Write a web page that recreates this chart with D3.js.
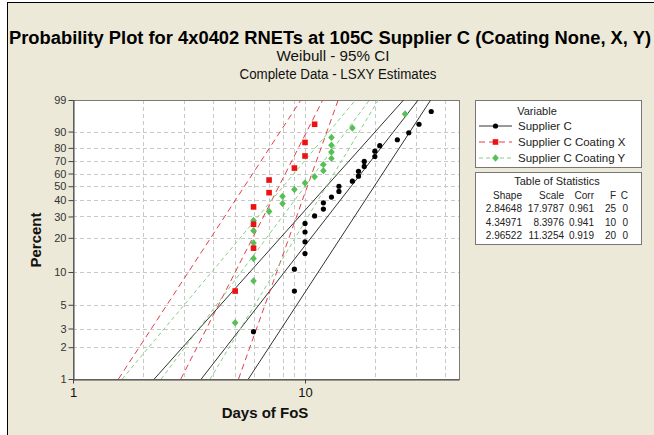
<!DOCTYPE html>
<html>
<head>
<meta charset="utf-8">
<script src="https://cdn.jsdelivr.net/npm/d3@7"></script>
<style>
  body { margin: 0; background: #fff; }
  text { font-family: "Liberation Sans", Arial, sans-serif; }
</style>
</head>
<body>
<svg id="chart" width="654" height="435"></svg>
<script>
// ---- data ----
const seriesNames = ["Supplier C", "Supplier C Coating X", "Supplier C Coating Y"];

const supplierCDays = [6, 9, 9, 10, 10, 10, 10, 11, 12, 12, 13, 14, 14, 16, 17, 17, 18, 18, 20, 20, 21, 25, 28, 31, 35];
const supplierCPct = [2.8, 6.7, 10.6, 14.6, 18.5, 22.4, 26.4, 30.3, 34.3, 38.2, 42.1, 46.1, 50.0, 53.9, 57.9, 61.8, 65.7, 69.7, 73.6, 77.6, 81.5, 85.4, 89.4, 93.3, 97.2];

const coatingXDays = [5, 6, 6, 6, 7, 7, 9, 10, 10, 11];
const coatingXPct = [6.7, 16.3, 26.0, 35.6, 45.2, 54.8, 64.4, 74.0, 83.7, 93.3];

const coatingYDays = [5, 6, 6, 6, 6, 6, 7, 8, 8, 9, 10, 11, 12, 12, 13, 13, 13, 13, 16, 27];
const coatingYPct = [3.4, 8.3, 13.2, 18.1, 23.0, 27.9, 32.8, 37.7, 42.6, 47.5, 52.5, 57.4, 62.3, 67.2, 72.1, 77.0, 81.9, 86.8, 91.7, 96.6];

// table of statistics
const shapes = ["2.84648", "4.34971", "2.96522"];
const scales = ["17.9787", "8.3976", "11.3254"];
const corrs = ["0.961", "0.941", "0.919"];
const failures = ["25", "10", "20"];
const censored = ["0", "0", "0"];

// 95% CI bounds (days) read at the bottom and top of the plot
const ciPct = [1, 99];
const supplierCLower = [2.24, 26.6];
const supplierCUpper = [5.7, 34.8];
const coatingXLower = [1.57, 9.6];
const coatingXUpper = [5.17, 13.9];
const coatingYLower = [1.63, 16.5];
const coatingYUpper = [3.9, 20.7];

const yTicks = [1, 2, 3, 5, 10, 20, 30, 40, 50, 60, 70, 80, 90, 99];
const xTicks = [1, 10];
const xGrid = [2, 3, 4, 5, 6, 7, 8, 9, 10, 20, 30, 40];

// ---- drawing ----
const svg = d3.select("#chart");
const margin = { left: 73, right: 459, top: 100, bottom: 379 };

// page background with border
svg.append("rect").attr("x", 7.5).attr("y", 2.5).attr("width", 700).attr("height", 500)
  .attr("fill", "#ECE9D8").attr("stroke", "#000");

// weibull probability transform
const wb = (p) => Math.log(-Math.log(1 - p / 100));

const x = d3.scaleLog().domain([1, 46.1]).range([margin.left, margin.right]);
const yw = d3.scaleLinear().domain([wb(1), wb(99)]).range([margin.bottom, margin.top]);
const y = (p) => yw(wb(p));

svg.append("rect")
  .attr("x", margin.left).attr("y", margin.top)
  .attr("width", margin.right - margin.left).attr("height", margin.bottom - margin.top)
  .attr("fill", "#fff");

svg.append("defs").append("clipPath").attr("id", "clip")
  .append("rect")
  .attr("x", margin.left).attr("y", margin.top)
  .attr("width", margin.right - margin.left).attr("height", margin.bottom - margin.top);

// grid
const grid = svg.append("g").attr("stroke", "#c8c8c8").attr("stroke-dasharray", "4,3").attr("stroke-width", 1);
grid.selectAll(".gx").data(xGrid).enter().append("line")
  .attr("x1", (d) => Math.round(x(d)) + 0.5).attr("x2", (d) => Math.round(x(d)) + 0.5)
  .attr("y1", margin.top).attr("y2", margin.bottom);
grid.selectAll(".gy").data(yTicks.slice(1, -1)).enter().append("line")
  .attr("x1", margin.left).attr("x2", margin.right)
  .attr("y1", (d) => Math.round(y(d)) + 0.5).attr("y2", (d) => Math.round(y(d)) + 0.5);

// frame
svg.append("rect")
  .attr("x", margin.left + 0.5).attr("y", margin.top + 0.5)
  .attr("width", margin.right - margin.left).attr("height", margin.bottom - margin.top)
  .attr("fill", "none").attr("stroke", "#7a7a7a");

// axes
const yAxis = svg.append("g")
  .attr("transform", `translate(${margin.left + 0.5},0)`)
  .call(d3.axisLeft(yw).tickValues(yTicks.map(wb)).tickFormat((d, i) => yTicks[i]).tickSize(5).tickSizeOuter(0));
yAxis.select(".domain").attr("stroke", "#444");
yAxis.selectAll(".tick line").attr("stroke", "#444");
yAxis.selectAll("text").attr("font-size", 11).attr("fill", "#333").attr("x", -7);

const xAxis = svg.append("g")
  .attr("transform", `translate(0,${margin.bottom + 0.5})`)
  .call(d3.axisBottom(x).tickValues(xTicks).tickFormat(d3.format("d")).tickSize(4).tickSizeOuter(0));
xAxis.select(".domain").attr("stroke", "#444");
xAxis.selectAll(".tick line").attr("stroke", "#444");
xAxis.selectAll("text").attr("font-size", 13).attr("fill", "#111").attr("y", 8);

// fitted lines + CI
const colors = ["#000000", "#ee1111", "#55c055"];
const lineColors = ["#333333", "#e0404a", "#86cf86"];
const dashes = [null, "6,4", "4,3"];
const seriesDays = [supplierCDays, coatingXDays, coatingYDays];
const seriesPct = [supplierCPct, coatingXPct, coatingYPct];
const lowers = [supplierCLower, coatingXLower, coatingYLower];
const uppers = [supplierCUpper, coatingXUpper, coatingYUpper];

const line = d3.line().x((d) => x(d[0])).y((d) => y(d[1]));
const plot = svg.append("g").attr("clip-path", "url(#clip)");

seriesNames.forEach((name, i) => {
  const beta = +shapes[i], eta = +scales[i];
  const fit = ciPct.map((p) => [eta * Math.pow(-Math.log(1 - p / 100), 1 / beta), p]);
  const lo = ciPct.map((p, j) => [lowers[i][j], p]);
  const hi = ciPct.map((p, j) => [uppers[i][j], p]);
  [lo, fit, hi].forEach((pts) => {
    plot.append("path").attr("d", line(pts))
      .attr("fill", "none").attr("stroke", lineColors[i]).attr("stroke-width", 1)
      .attr("stroke-dasharray", dashes[i]);
  });
});

// markers
function marker(g, i, cx, cy) {
  if (i === 0) {
    g.append("circle").attr("cx", cx).attr("cy", cy).attr("r", 2.6).attr("fill", colors[0]);
  } else if (i === 1) {
    g.append("rect").attr("x", cx - 2.8).attr("y", cy - 2.8).attr("width", 5.6).attr("height", 5.6).attr("fill", colors[1]);
  } else {
    g.append("path").attr("d", `M${cx},${cy - 3.7}L${cx + 3.3},${cy}L${cx},${cy + 3.7}L${cx - 3.3},${cy}Z`).attr("fill", colors[2]);
  }
}
const pts = svg.append("g");
[2, 1, 0].forEach((i) => {
  seriesDays[i].forEach((d, j) => marker(pts, i, x(d), y(seriesPct[i][j])));
});

// titles
svg.append("text").attr("x", 330).attr("y", 44).attr("text-anchor", "middle")
  .attr("font-size", 18).attr("font-weight", "bold").attr("fill", "#000")
  .attr("textLength", 642).attr("lengthAdjust", "spacingAndGlyphs")
  .text("Probability Plot for 4x0402 RNETs at 105C Supplier C (Coating None, X, Y)");
svg.append("text").attr("x", 333).attr("y", 61).attr("text-anchor", "middle")
  .attr("font-size", 14).attr("fill", "#111")
  .attr("textLength", 113).attr("lengthAdjust", "spacingAndGlyphs")
  .text("Weibull - 95% CI");
svg.append("text").attr("x", 338).attr("y", 79).attr("text-anchor", "middle")
  .attr("font-size", 14).attr("fill", "#111")
  .attr("textLength", 197).attr("lengthAdjust", "spacingAndGlyphs")
  .text("Complete Data - LSXY Estimates");

svg.append("text").attr("transform", "translate(41,240) rotate(-90)").attr("text-anchor", "middle")
  .attr("font-size", 15).attr("font-weight", "bold").attr("fill", "#111").text("Percent");
svg.append("text").attr("x", 265).attr("y", 418).attr("text-anchor", "middle")
  .attr("font-size", 15).attr("font-weight", "bold").attr("fill", "#111").text("Days of FoS");

// legend
const leg = svg.append("g");
leg.append("rect").attr("x", 475.5).attr("y", 100.5).attr("width", 166).attr("height", 67)
  .attr("fill", "#fff").attr("stroke", "#777");
leg.append("text").attr("x", 537).attr("y", 115).attr("text-anchor", "middle")
  .attr("font-size", 11).attr("fill", "#222").text("Variable");
const rowY = [126, 142, 158];
seriesNames.forEach((name, i) => {
  leg.append("line").attr("x1", 479).attr("x2", 512).attr("y1", rowY[i]).attr("y2", rowY[i])
    .attr("stroke", lineColors[i]).attr("stroke-dasharray", dashes[i]);
  marker(leg, i, 495.5, rowY[i]);
  leg.append("text").attr("x", 518).attr("y", rowY[i] + 4).attr("font-size", 11.5).attr("fill", "#222").text(name);
});

// table of statistics
const tab = svg.append("g").attr("font-size", 10).attr("fill", "#222");
tab.append("rect").attr("x", 475.5).attr("y", 172.5).attr("width", 166).attr("height", 72)
  .attr("fill", "#fff").attr("stroke", "#777");
tab.append("text").attr("x", 557).attr("y", 185).attr("text-anchor", "middle").attr("font-size", 11)
  .attr("fill", "#222").text("Table of Statistics");
const colX = [522, 564, 594, 616, 628];
const headers = ["Shape", "Scale", "Corr", "F", "C"];
headers.forEach((h, k) => {
  tab.append("text").attr("x", colX[k]).attr("y", 199).attr("text-anchor", "end").attr("fill", "#222").text(h);
});
const rowsY = [212, 225.5, 239];
seriesNames.forEach((name, i) => {
  [shapes[i], scales[i], corrs[i], failures[i], censored[i]].forEach((v, k) => {
    tab.append("text").attr("x", colX[k]).attr("y", rowsY[i]).attr("text-anchor", "end").attr("fill", "#222").text(v);
  });
});
</script>
</body>
</html>
